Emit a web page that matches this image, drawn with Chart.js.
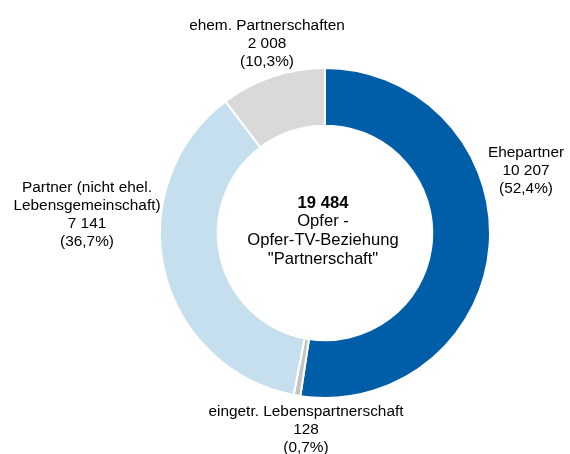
<!DOCTYPE html>
<html>
<head>
<meta charset="utf-8">
<script src="https://cdn.jsdelivr.net/npm/chart.js@4"></script>
<style>
  html, body { margin: 0; padding: 0; background: #fff; }
  #wrap { width: 570px; height: 454px; position: relative; }
</style>
</head>
<body>
<div id="wrap"><canvas id="pieChart" width="570" height="454"></canvas></div>
<script>
// --- data ---
const categories = ['Ehepartner', 'eingetr. Lebenspartnerschaft', 'Partner (nicht ehel. Lebensgemeinschaft)', 'ehem. Partnerschaften'];
const values = [10207, 128, 7141, 2008];
const valueLabels = ['10 207', '128', '7 141', '2 008'];
const percentLabels = ['(52,4%)', '(0,7%)', '(36,7%)', '(10,3%)'];
const labelLines = [
    ['Ehepartner'],
    ['eingetr. Lebenspartnerschaft'],
    ['Partner (nicht ehel.', 'Lebensgemeinschaft)'],
    ['ehem. Partnerschaften']
];
const centerLines = ['19 484', 'Opfer -', 'Opfer-TV-Beziehung', '"Partnerschaft"'];

// --- styles ---
const colors = ['#005EA8', '#C4C4C4', '#C6DFEF', '#D9D9D9'];
// label anchor (centre of top text line) relative to doughnut centre
const labelOffsets = [[201, -80], [-19, 179], [-238, -45], [-58, -207]];
const FONT = '"Liberation Sans", Arial, sans-serif';

const labelPlugin = {
    id: 'labelPlugin',
    afterDraw(chart) {
        const c = chart.ctx;
        const arc = chart.getDatasetMeta(0).data[0];
        const cx = arc.x, cy = arc.y;
        c.save();
        c.fillStyle = '#000';
        c.textAlign = 'center';
        c.textBaseline = 'middle';

        // outer labels
        categories.forEach((name, i) => {
            const lines = labelLines[i].concat([valueLabels[i], percentLabels[i]]);
            const [dx, dy] = labelOffsets[i];
            c.font = '15.4px ' + FONT;
            lines.forEach((t, k) => c.fillText(t, cx + dx, cy + dy + k * 17.8));
        });

        // centre text
        centerLines.forEach((t, k) => {
            c.font = (k === 0 ? 'bold ' : '') + '16.6px ' + FONT;
            c.fillText(t, cx - 2, cy - 30 + k * 18.7);
        });
        c.restore();
    }
};

const ctx = document.getElementById('pieChart').getContext('2d');
new Chart(ctx, {
    type: 'doughnut',
    data: {
        labels: categories,
        datasets: [{
            data: values,
            backgroundColor: colors,
            borderColor: '#ffffff',
            borderWidth: 2
        }]
    },
    options: {
        responsive: false,
        animation: false,
        cutout: '65%',
        layout: { padding: { top: 67, bottom: 55, left: 159, right: 79 } },
        plugins: {
            legend: { display: false },
            tooltip: { enabled: false }
        }
    },
    plugins: [labelPlugin]
});
</script>
</body>
</html>
